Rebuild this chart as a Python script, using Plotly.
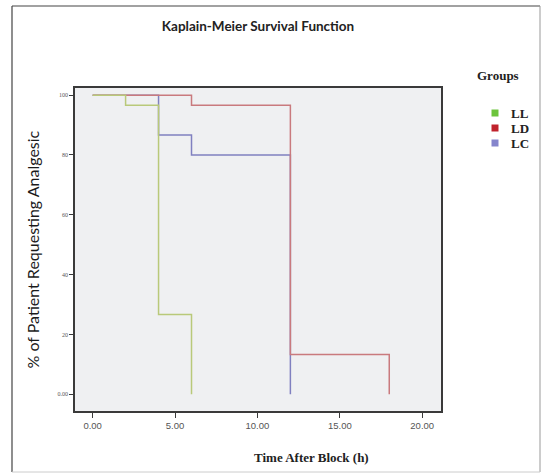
import plotly.graph_objects as go

# Kaplan-Meier step data (time in hours, % of patients still not requesting analgesic)
groups = ["LL", "LD", "LC"]
ll_time = [0, 2, 4, 6]
ll_surv = [100, 96.67, 26.67, 0]
ld_time = [0, 6, 12, 18]
ld_surv = [100, 96.67, 13.33, 0]
lc_time = [0, 4, 6, 12]
lc_surv = [100, 86.67, 80, 0]

x_ticks = [0, 5, 10, 15, 20]
x_tick_text = ["0.00", "5.00", "10.00", "15.00", "20.00"]
y_ticks = [0, 20, 40, 60, 80, 100]
y_tick_text = ["0.00", "20", "40", "60", "80", "100"]

line_colors = {"LL": "#b9c97a", "LD": "#c97a7e", "LC": "#8080c0"}
legend_colors = {"LL": "#6cc43c", "LD": "#c0222c", "LC": "#8585cc"}

series = {"LL": (ll_time, ll_surv), "LD": (ld_time, ld_surv), "LC": (lc_time, lc_surv)}

fig = go.Figure()
# draw LC first, LL last (on top)
for g in ["LC", "LD", "LL"]:
    t, s = series[g]
    fig.add_trace(go.Scatter(x=t, y=s, mode="lines", name=g,
                             line=dict(color=line_colors[g], width=1.5, shape="hv"),
                             showlegend=False, hoverinfo="skip"))

W, H = 542, 474
L, R, T, B = 75, 101, 88, 63
pw, ph = W - L - R, H - T - B

def px(x):
    return (x - L) / pw

def py(y):
    return 1 - (y - T) / ph

annotations = [
    dict(text="<b>Groups</b>", x=px(475), y=py(75), xref="paper", yref="paper", xanchor="left",
         yanchor="middle", showarrow=False, font=dict(family="Liberation Serif", size=13, color="#222")),
    dict(text="% of Patient Requesting Analgesic", x=px(32), y=0.5, xref="paper", yref="paper",
         textangle=-90, xanchor="center", yanchor="middle", showarrow=False,
         font=dict(family="Lato", size=16, color="#1a1a1a")),
    dict(text="<b>Time After Block (h)</b>", x=px(311), y=py(458), xref="paper", yref="paper",
         xanchor="center", yanchor="middle", showarrow=False,
         font=dict(family="Liberation Serif", size=13, color="#222")),
]
shapes = [
    dict(type="line", xref="paper", yref="paper", x0=px(12), x1=px(540), y0=py(6), y1=py(6),
         line=dict(color="#444", width=1.2)),
    dict(type="line", xref="paper", yref="paper", x0=px(12), x1=px(12), y0=py(6), y1=py(472),
         line=dict(color="#444", width=1.2)),
    dict(type="line", xref="paper", yref="paper", x0=px(540), x1=px(540), y0=py(6), y1=py(472),
         line=dict(color="#999", width=1)),
    dict(type="line", xref="paper", yref="paper", x0=px(12), x1=px(540), y0=py(472), y1=py(472),
         line=dict(color="#ccc", width=1)),
]
# legend keys
for i, g in enumerate(groups):
    cy = 113 + 15 * i
    shapes.append(dict(type="rect", xref="paper", yref="paper", x0=px(491.5), x1=px(498.5),
                       y0=py(cy - 3.5), y1=py(cy + 3.5), fillcolor=legend_colors[g], line=dict(width=0)))
    annotations.append(dict(text="<b>" + g + "</b>", x=px(509), y=py(cy), xref="paper", yref="paper",
                            xanchor="left", yanchor="middle", showarrow=False,
                            font=dict(family="Liberation Serif", size=13, color="#222")))

fig.update_layout(
    width=W, height=H,
    margin=dict(l=L, r=R, t=T, b=B),
    paper_bgcolor="white",
    plot_bgcolor="#eff0f2",
    showlegend=False,
    title=dict(text="<b>Kaplain-Meier Survival Function</b>", x=258 / W, xanchor="center",
               y=1 - 26 / H, yanchor="middle", font=dict(family="Lato", size=13.5, color="#222")),
    xaxis=dict(range=[-1.07, 21.14], tickvals=x_ticks, ticktext=x_tick_text, showgrid=False, zeroline=False,
               showline=True, linecolor="#3a3a3a", linewidth=1.6, mirror=True,
               ticks="outside", ticklen=5, tickwidth=1.2, tickcolor="#3a3a3a",
               tickfont=dict(family="Liberation Sans", size=9.5, color="#555")),
    yaxis=dict(range=[-5.6, 102.4], tickvals=y_ticks, ticktext=y_tick_text, showgrid=False, zeroline=False,
               showline=True, linecolor="#3a3a3a", linewidth=1.6, mirror=True,
               ticks="outside", ticklen=4, tickwidth=1.2, tickcolor="#3a3a3a",
               tickfont=dict(family="Liberation Serif", size=6, color="#555")),
    annotations=annotations,
    shapes=shapes,
)

fig.write_html("out.html", config={"displayModeBar": False},
               post_script="document.body.style.margin='0';document.body.style.overflow='hidden';")
